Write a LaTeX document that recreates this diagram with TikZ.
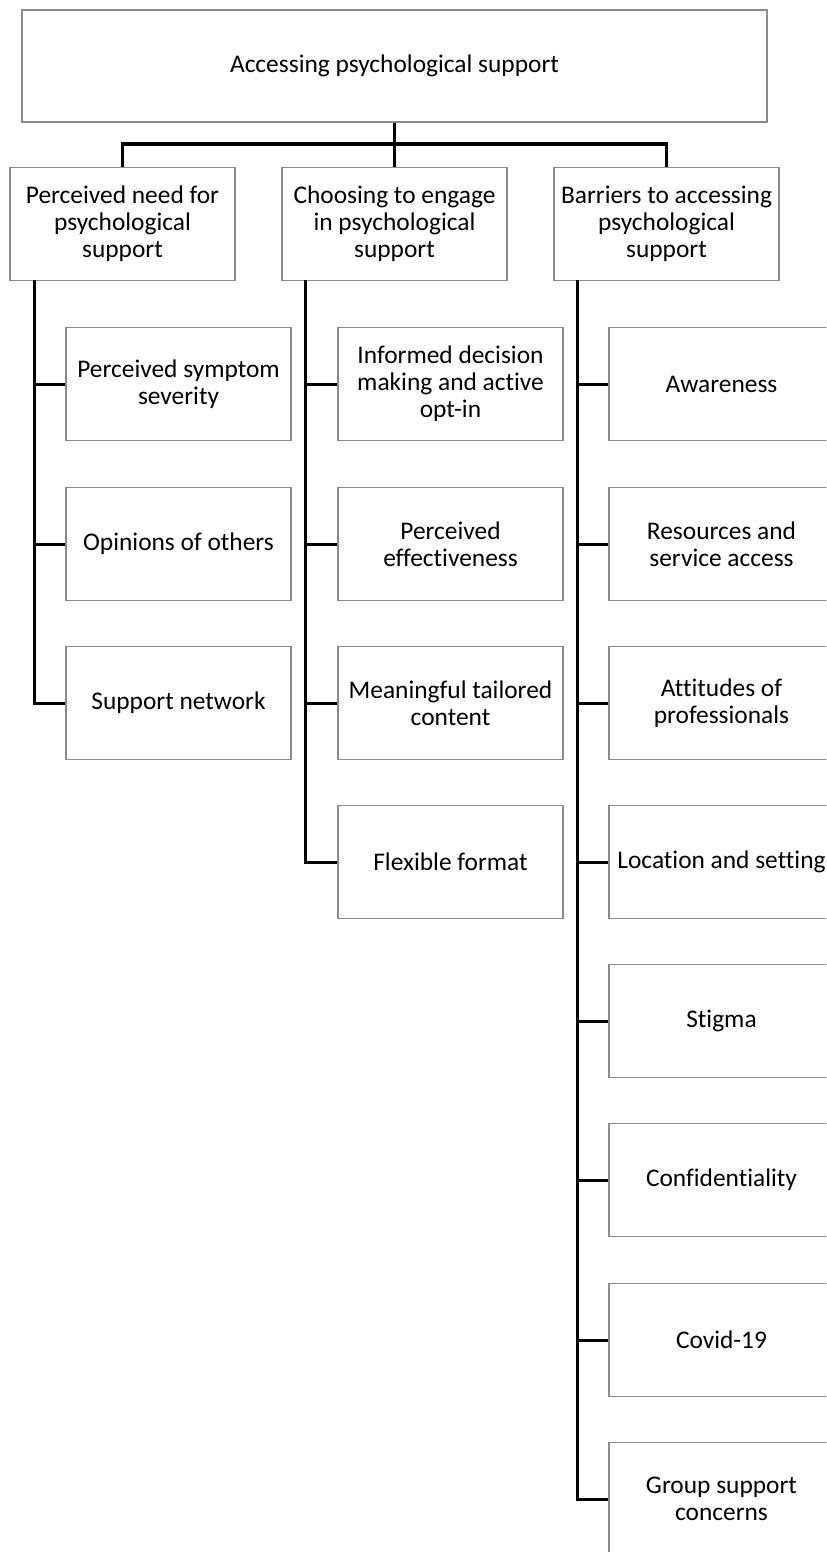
\documentclass[tikz,border=0pt]{standalone}
\usepackage{fontspec}
\setmainfont{Carlito}[Ligatures=NoCommon]
\usepackage{tikz}

\tikzset{
  themebox/.style={draw=black!45, line width=0.9pt, fill=white, inner sep=0pt,
    minimum width=112.5pt, minimum height=56.5pt, align=center,
    font=\fontsize{12.7}{13.6}\selectfont},
  conn/.style={draw=black, line width=1.5pt}
}

\begin{document}
\begin{tikzpicture}[x=0.5pt,y=0.5pt,yscale=-1,xscale=1]
\useasboundingbox (0,0) rectangle (826,1552);
\clip (0,0) rectangle (826,1552);

% Root Node
\node [themebox, minimum width=372.5pt, minimum height=56pt] (root) at (394.5,66) {Accessing psychological support};

% Theme Nodes
\node [themebox] (need) at (122.5,224) {Perceived need for\\psychological\\support};
\node [themebox] (choose) at (394.5,224) {Choosing to engage\\in psychological\\support};
\node [themebox] (barrier) at (666.5,224) {Barriers to accessing\\psychological\\support};

% Sub-theme Nodes: perceived need
\node [themebox] (severity) at (178.5,384) {Perceived symptom\\severity};
\node [themebox] (opinions) at (178.5,544) {Opinions of others};
\node [themebox] (network) at (178.5,703) {Support network};

% Sub-theme Nodes: choosing to engage
\node [themebox] (informed) at (450.5,384) {Informed decision\\making and active\\opt-in};
\node [themebox] (effective) at (450.5,544) {Perceived\\effectiveness};
\node [themebox] (tailored) at (450.5,703) {Meaningful tailored\\content};
\node [themebox] (flexible) at (450.5,862) {Flexible format};

% Sub-theme Nodes: barriers
\node [themebox] (awareness) at (721.5,384) {Awareness};
\node [themebox] (resources) at (721.5,544) {Resources and\\service access};
\node [themebox] (attitudes) at (721.5,703) {Attitudes of\\professionals};
\node [themebox] (location) at (721.5,862) {Location and setting};
\node [themebox] (stigma) at (721.5,1021) {Stigma};
\node [themebox] (confid) at (721.5,1180) {Confidentiality};
\node [themebox] (covid) at (721.5,1340) {Covid-19};
\node [themebox] (group) at (721.5,1499) {Group support\\concerns};

% Root to themes
\coordinate (bar) at (394.5,144);
\draw [conn] (root.south) -- (bar);
\draw [conn] (need.north) |- (bar) -| (barrier.north);
\draw [conn] (choose.north) -- (choose.north |- bar);

% Trunk lines
\coordinate (needtrunk) at (34,280);
\coordinate (choosetrunk) at (305,280);
\coordinate (barriertrunk) at (577,280);

\draw [conn] (needtrunk) |- (network.west);
\draw [conn] (needtrunk |- severity.west) -- (severity.west);
\draw [conn] (needtrunk |- opinions.west) -- (opinions.west);

\draw [conn] (choosetrunk) |- (flexible.west);
\draw [conn] (choosetrunk |- informed.west) -- (informed.west);
\draw [conn] (choosetrunk |- effective.west) -- (effective.west);
\draw [conn] (choosetrunk |- tailored.west) -- (tailored.west);

\draw [conn] (barriertrunk) |- (group.west);
\draw [conn] (barriertrunk |- awareness.west) -- (awareness.west);
\draw [conn] (barriertrunk |- resources.west) -- (resources.west);
\draw [conn] (barriertrunk |- attitudes.west) -- (attitudes.west);
\draw [conn] (barriertrunk |- location.west) -- (location.west);
\draw [conn] (barriertrunk |- stigma.west) -- (stigma.west);
\draw [conn] (barriertrunk |- confid.west) -- (confid.west);
\draw [conn] (barriertrunk |- covid.west) -- (covid.west);

\end{tikzpicture}
\end{document}
